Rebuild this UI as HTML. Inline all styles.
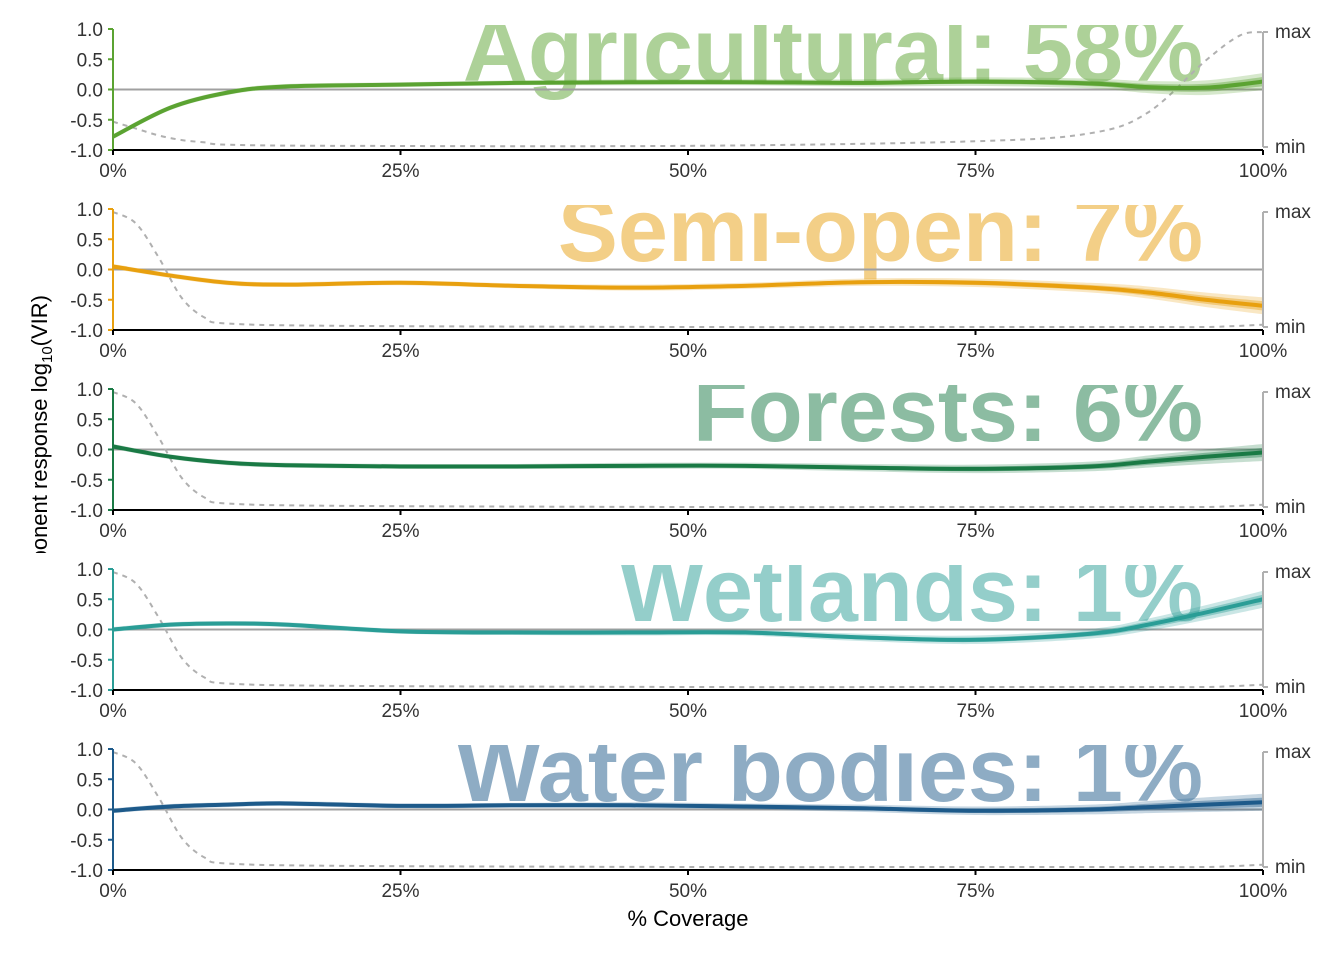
<!DOCTYPE html>
<html><head><meta charset="utf-8"><style>
body{margin:0;background:#fff;}
svg{display:block;font-family:"Liberation Sans",Arial,sans-serif;}
</style></head><body>
<svg id="chart" width="1344" height="960"></svg>
<script>
const panelNames=["Agricultural","Semi-open","Forests","Wetlands","Water bodies"];
const panelPct=["58%","7%","6%","1%","1%"];
const panelColors=["#5ba332","#e8a00f","#1a7a45","#2a9d96","#1d5a8a"];
const xTicks=[0,25,50,75,100];
const xTickLabels=["0%","25%","50%","75%","100%"];
const yTicks=[1,0.5,0,-0.5,-1];
const yTickLabels=["1.0","0.5","0.0","-0.5","-1.0"];
const respX=[0,5,10,15,25,35,45,55,65,75,85,90,95,100];
const respAgri=[-0.78,-0.3,-0.05,0.05,0.08,0.11,0.12,0.12,0.11,0.13,0.1,0.04,0.03,0.13];
const respSemi=[0.05,-0.1,-0.22,-0.25,-0.22,-0.27,-0.3,-0.27,-0.21,-0.22,-0.3,-0.38,-0.5,-0.6];
const respForest=[0.05,-0.12,-0.22,-0.26,-0.28,-0.28,-0.27,-0.27,-0.3,-0.32,-0.28,-0.2,-0.12,-0.05];
const respWet=[0,0.08,0.1,0.08,-0.03,-0.05,-0.05,-0.05,-0.13,-0.17,-0.07,0.08,0.28,0.5];
const respWater=[-0.02,0.05,0.08,0.1,0.06,0.07,0.07,0.05,0.02,-0.02,0,0.04,0.08,0.12];
const bandWidths=[0.04,0.04,0.04,0.04,0.04,0.04,0.05,0.05,0.06,0.07,0.08,0.1,0.12,0.14];
const densX=[0,2,4,6,8,10,20,50,75,85,90,95,98,100];
const densAgri=[0.22,0.16,0.1,0.06,0.04,0.02,0.01,0.01,0.05,0.12,0.3,0.75,0.97,1];
const densOther=[1,0.9,0.6,0.25,0.08,0.03,0.01,0,0,0,0,0,0.01,0.02];
const responses=[respAgri,respSemi,respForest,respWet,respWater];
const densities=[densAgri,densOther,densOther,densOther,densOther];

const NS="http://www.w3.org/2000/svg";
const svg=document.getElementById("chart");
function mk(tag,attrs,parent){const e=document.createElementNS(NS,tag);for(const k in attrs)e.setAttribute(k,attrs[k]);(parent||svg).appendChild(e);return e;}
const X0=113,X1=1263;
const xs=v=>X0+(X1-X0)*v/100;
function path(pts){
  let d="M"+pts[0][0]+","+pts[0][1];
  for(let i=0;i<pts.length-1;i++){
    const p0=pts[Math.max(0,i-1)],p1=pts[i],p2=pts[i+1],p3=pts[Math.min(pts.length-1,i+2)];
    const c1=[p1[0]+(p2[0]-p0[0])/6,p1[1]+(p2[1]-p0[1])/6];
    const c2=[p2[0]-(p3[0]-p1[0])/6,p2[1]-(p3[1]-p1[1])/6];
    d+=" C"+c1+" "+c2+" "+p2;
  }
  return d;
}
const defs=mk("defs",{});
panelNames.forEach((name,i)=>{
  const top=29+180*i,bot=150+180*i;
  const ys=v=>bot-(v+1)/2*(bot-top);
  const col=panelColors[i];
  const g=mk("g",{});
  
  
  const cp=mk("clipPath",{id:"cp"+i},defs);
  mk("rect",{x:X0,y:top-4,width:X1-X0+2,height:bot-top+4},cp);
  const title=mk("text",{x:1203,y:top+52,"text-anchor":"end","font-size":90,"font-weight":"bold",fill:col,"fill-opacity":0.5,"clip-path":"url(#cp"+i+")"},g);
  title.textContent=name+": "+panelPct[i];
  
  
  const zl=mk("line",{x1:X0,x2:X1,y1:ys(0),y2:ys(0),stroke:"#a0a0a0","stroke-width":2},g);
  
  
  const maxY=top+3,minY=bot-3;
  const dpts=densX.map((x,j)=>[xs(x),minY-densities[i][j]*(minY-maxY)]);
  const dl=mk("path",{d:path(dpts),fill:"none",stroke:"#b0b0b0","stroke-width":2,"stroke-dasharray":"5,5"},g);
  
  
  const r=responses[i];
  [[1.0,0.25],[0.55,0.4]].forEach(([m,op])=>{
    const up=respX.map((x,j)=>[xs(x),ys(r[j]+bandWidths[j]*m)]);
    const lo=respX.map((x,j)=>[xs(x),ys(r[j]-bandWidths[j]*m)]).reverse();
    const lp=path(lo);
    const d=path(up)+" L"+lo[0]+lp.slice(lp.indexOf(" C"))+" Z";
    const b=mk("path",{d:d,fill:col,"fill-opacity":op},g);
    
    
  });
  const rl=mk("path",{d:path(respX.map((x,j)=>[xs(x),ys(r[j])])),fill:"none",stroke:col,"stroke-width":4},g);
  
  
  const la=mk("line",{x1:X0,x2:X0,y1:top,y2:bot,stroke:col,"stroke-width":2},g);
  
  
  yTicks.forEach((v,j)=>{
    mk("line",{x1:X0-5,x2:X0,y1:ys(v),y2:ys(v),stroke:col,"stroke-width":2},g);
    const t=mk("text",{x:103,y:ys(v)+7,"text-anchor":"end","font-size":19,fill:"#333"},g);
    t.textContent=yTickLabels[j];
    
    
  });
  const xa=mk("line",{x1:X0,x2:X1,y1:bot,y2:bot,stroke:"#000","stroke-width":2},g);
  
  
  xTicks.forEach((v,j)=>{
    mk("line",{x1:xs(v),x2:xs(v),y1:bot,y2:bot+5,stroke:"#000","stroke-width":2},g);
    const t=mk("text",{x:xs(v),y:bot+27,"text-anchor":"middle","font-size":19,fill:"#333"},g);
    t.textContent=xTickLabels[j];
    
    
  });
  const ra=mk("line",{x1:X1,x2:X1,y1:maxY,y2:minY,stroke:"#b0b0b0","stroke-width":2},g);
  
  
  [[maxY,"max"],[minY,"min"]].forEach(([y,l])=>{
    mk("line",{x1:X1,x2:X1+5,y1:y,y2:y,stroke:"#b0b0b0","stroke-width":2},g);
    const t=mk("text",{x:X1+12,y:y+6,"font-size":19,fill:"#333"},g);
    t.textContent=l;
    
    
  });
});
const ycp=mk("clipPath",{id:"ycp"},defs);
mk("rect",{x:0,y:0,width:100,height:553},ycp);
const yg=mk("g",{"clip-path":"url(#ycp)"});
const yt=mk("text",{transform:"translate(47,295) rotate(-90)","text-anchor":"end","font-size":22,fill:"#000"},yg);
yt.innerHTML='Component response log<tspan font-size="15" dy="5">10</tspan><tspan dy="-5">(VIR)</tspan>';


const xt=mk("text",{x:688,y:926,"text-anchor":"middle","font-size":22,fill:"#000"});
xt.textContent="% Coverage";


</script>
</body></html>
